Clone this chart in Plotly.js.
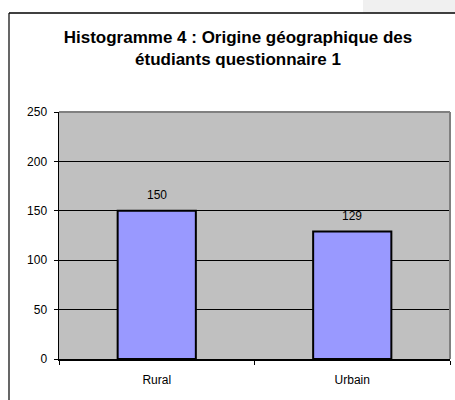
<!DOCTYPE html>
<html>
<head>
<meta charset="utf-8">
<script src="https://cdn.plot.ly/plotly-3.0.1.min.js"></script>
<style>
html,body{margin:0;padding:0;background:#fff;}
#chart{width:455px;height:400px;}
</style>
</head>
<body>
<div id="chart"></div>
<script>
var categories = ["Rural", "Urbain"];
var values = [150, 129];
var yTicks = [0, 50, 100, 150, 200, 250];
var titleLines = ["Histogramme 4 : Origine géographique des", "étudiants questionnaire 1"];

var FONT = "Liberation Sans, Arial, Helvetica, sans-serif";

var trace = {
  type: "bar",
  x: categories,
  y: values,
  width: 0.4,
  marker: {color: "#9999ff", line: {color: "#000000", width: 2}},
  hoverinfo: "none"
};

var annotations = categories.map(function(c, i) {
  return {
    x: c, y: values[i], xref: "x", yref: "y",
    text: String(values[i]), showarrow: false,
    yanchor: "bottom", yshift: 7,
    font: {family: FONT, size: 12, color: "#000"}
  };
});

var L = 59, R = 5, T = 112, B = 41;
var W = 455 - L - R, H = 400 - T - B;
function px(x){ return (x - L) / W; }
function py(y){ return (400 - B - y) / H; }

var shapes = [
  {type: "rect", xref: "paper", yref: "paper", x0: px(363), x1: px(470), y0: py(-5), y1: py(12.5),
   fillcolor: "#f0f0f0", line: {width: 0}, layer: "below"},
  {type: "line", xref: "paper", yref: "paper", x0: px(9), x1: px(9), y0: py(13), y1: py(420),
   line: {color: "#000", width: 1.2}},
  {type: "line", xref: "paper", yref: "paper", x0: px(9), x1: px(470), y0: py(13), y1: py(13),
   line: {color: "#000", width: 1.5}},
  {type: "line", xref: "paper", yref: "paper", x0: 0, x1: 1, y0: 1, y1: 1,
   line: {color: "#808080", width: 2}},
  {type: "line", xref: "paper", yref: "paper", x0: 1, x1: 1, y0: 0, y1: 1,
   line: {color: "#808080", width: 2}}
];

var layout = {
  width: 455, height: 400,
  margin: {l: L, r: R, t: T, b: B, pad: 0},
  paper_bgcolor: "#ffffff",
  plot_bgcolor: "#c0c0c0",
  showlegend: false,
  font: {family: FONT, size: 12, color: "#000"},
  title: {
    text: "<b>" + titleLines[0] + "<br>" + titleLines[1] + "</b>",
    font: {family: FONT, size: 17, color: "#000"},
    x: 238 / 455, xanchor: "center", xref: "container",
    y: 1 - 43 / 400, yanchor: "top", yref: "container"
  },
  xaxis: {
    type: "category",
    tickson: "boundaries",
    ticks: "outside", ticklen: 4, tickwidth: 1, tickcolor: "#000",
    showline: true, linecolor: "#000", linewidth: 1.5,
    showgrid: false, zeroline: false,
    ticklabelstandoff: 9,
    tickfont: {family: FONT, size: 12, color: "#000"},
    fixedrange: true
  },
  yaxis: {
    range: [0, 250],
    tickvals: yTicks,
    ticktext: yTicks.map(String),
    ticks: "outside", ticklen: 4, tickwidth: 1, tickcolor: "#000",
    showline: true, linecolor: "#000", linewidth: 1.5,
    showgrid: true, gridcolor: "#000", gridwidth: 1,
    zeroline: false,
    ticklabelstandoff: 4,
    tickfont: {family: FONT, size: 12, color: "#000"},
    fixedrange: true
  },
  annotations: annotations,
  shapes: shapes
};

Plotly.newPlot("chart", [trace], layout, {staticPlot: true, displayModeBar: false});
</script>
</body>
</html>
